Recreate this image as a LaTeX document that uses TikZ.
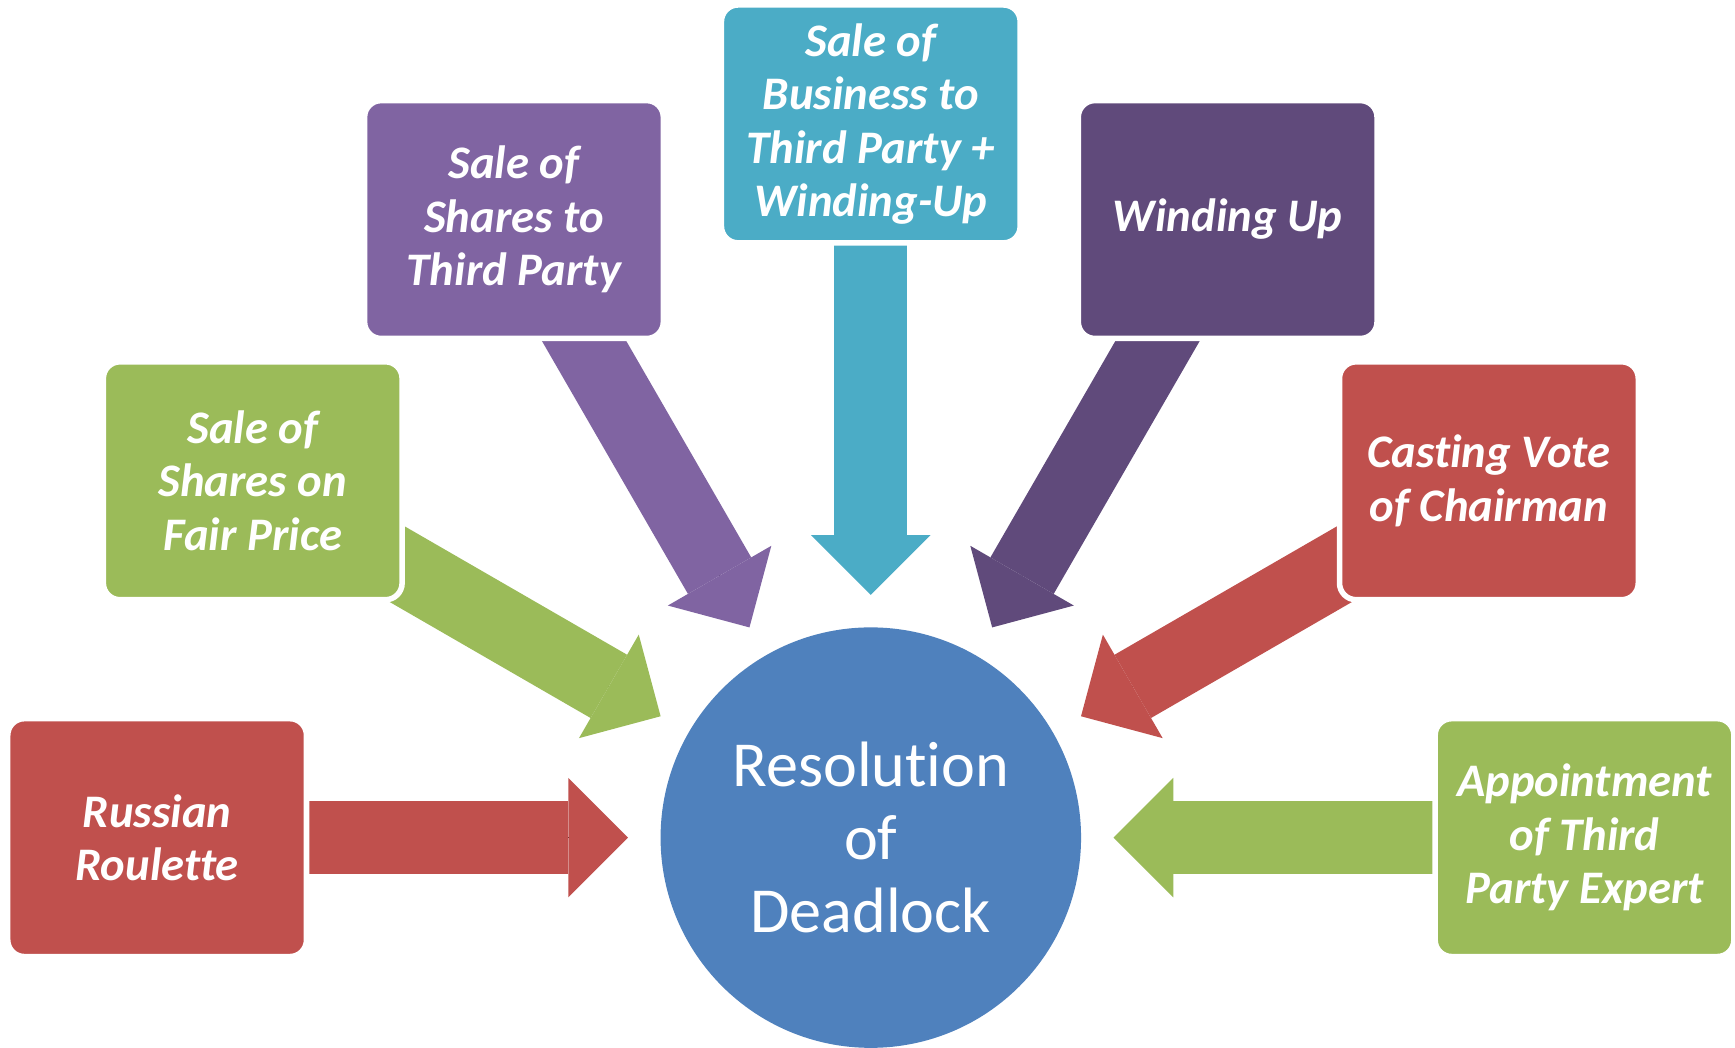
\documentclass[tikz,border=0pt]{standalone}
\usepackage{fontspec}
\setmainfont{Carlito}[Ligatures=NoCommon]
\usepackage{tikz}
\usetikzlibrary{arrows.meta,backgrounds}

\definecolor{dlred}{HTML}{C0504D}
\definecolor{dlgreen}{HTML}{9BBB59}
\definecolor{dlpurple}{HTML}{8064A2}
\definecolor{dlteal}{HTML}{4BACC6}
\definecolor{dlplum}{HTML}{604A7B}
\definecolor{dlblue}{HTML}{4F81BD}

\newcommand{\nolig}{\kern0pt} % keeps t and i apart

\tikzset{
  choice/.style={rectangle, rounded corners=3mm, draw=white, line width=1mm,
    minimum width=54mm, minimum height=43mm, inner sep=0pt, align=center,
    text=white, font=\fontsize{24}{27.5}\selectfont\bfseries\itshape},
  push/.style={line width=13.2mm,
    -{Triangle[width=21.6mm,length=10.8mm,line width=0pt]}, shorten >=5.8mm,
    preaction={draw, -, shorten >=14mm}} % shaft runs into the head
}

\begin{document}
\begin{tikzpicture}[x=0.2mm, y=0.2mm]

% Frame of the picture
\useasboundingbox (-787,-190) rectangle (781,757);

% Centre circle
\node[circle, fill=dlblue, minimum size=76mm, inner sep=0pt, align=center,
  text=white, font=\fontsize{33}{37.7}\selectfont] (hub) at (0,0) {Resolut\nolig ion\\of\\Deadlock};

% Remedies round the circle
\node[choice, fill=dlred] (roulette) at (180:645) {Russian\\Roulette};        % left
\node[choice, fill=dlgreen] (fairprice) at (150:645) {Sale of\\Shares on\\Fair Price};
\node[choice, fill=dlpurple] (shares) at (120:645) {Sale of\\Shares to\\Third Party};
\node[choice, fill=dlteal] (business) at (90:645) {Sale of\\Business to\\Third Party +\\Winding-Up}; % top
\node[choice, fill=dlplum] (windup) at (60:645) {Winding Up};
\node[choice, fill=dlred] (casting) at (30:645) {Cast\nolig ing Vote\\of Chairman};
\node[choice, fill=dlgreen] (expert) at (0:645) {Appointment\\of Third\\Party Expert}; % right

% Block arrows, behind the boxes
\begin{scope}[on background layer]
\fill[white] (-787,-190) rectangle (781,757); % white paper
\draw[push, dlred] (roulette.center) -- (hub);
\draw[push, dlgreen] (fairprice.center) -- (hub);
\draw[push, dlpurple] (shares.center) -- (hub);
\draw[push, dlteal] (business.center) -- (hub);
\draw[push, dlplum] (windup.center) -- (hub);
\draw[push, dlred] (casting.center) -- (hub);
\draw[push, dlgreen] (expert.center) -- (hub);
\end{scope}

\end{tikzpicture}
\end{document}
